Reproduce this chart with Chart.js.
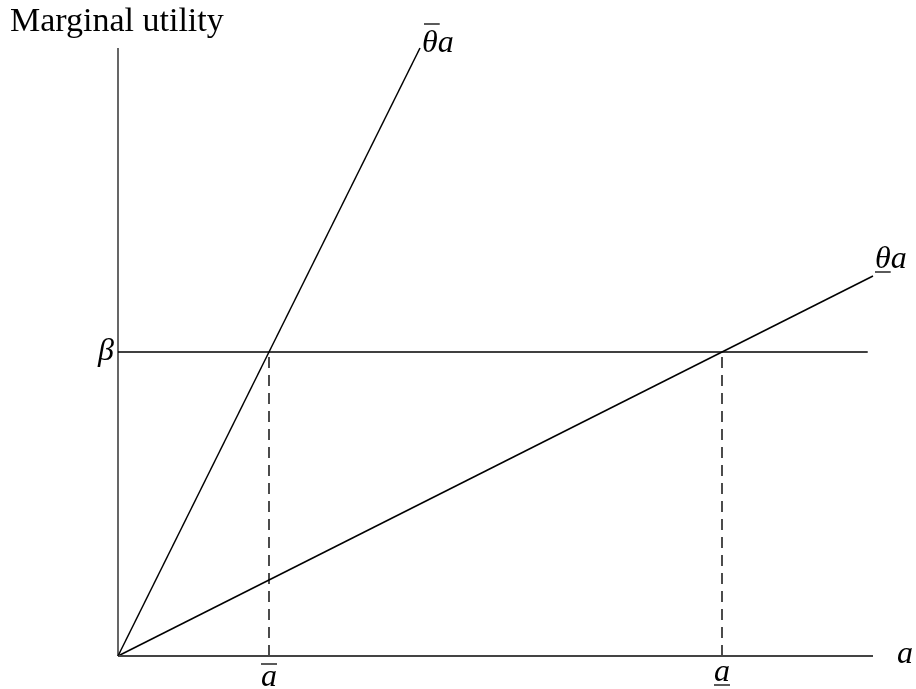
<!DOCTYPE html>
<html>
<head>
<meta charset="utf-8">
<script src="https://cdn.jsdelivr.net/npm/chart.js@4.4.1/dist/chart.umd.min.js"></script>
<style>
  body { margin: 0; background: #fff; }
  #wrap { width: 916px; height: 689px; }
</style>
</head>
<body>
<div id="wrap"><canvas id="grafico" width="916" height="689"></canvas></div>
<script>
// dados do grafico (unidades abstratas: a de 0 a 10, utilidade de 0 a 10)
const highThetaX = [0, 4];
const highThetaY = [0, 10];
const lowThetaX = [0, 10];
const lowThetaY = [0, 6.25];
const betaX = [0, 9.93];
const betaY = [5, 5];
const aBarDropX = [2, 2];
const aBarDropY = [0, 5];
const aLowDropX = [8, 8];
const aLowDropY = [0, 5];
const axisX = [0, 10];
const axisYtop = 10;

// marcas do eixo a
const aTicks = [2, 8];
const aTickMarks = ['over', 'under'];
const betaLevel = 5;

function pts(xs, ys) {
    return xs.map((x, i) => ({ x: x, y: ys[i] }));
}

const mathFont = 'italic 32px "Liberation Serif"';

// desenha textos e a barra / sublinhado
const rotulos = {
    id: 'rotulos',
    afterDraw(chart) {
        const ctx = chart.ctx;
        const sx = chart.scales.x, sy = chart.scales.y;
        ctx.save();
        ctx.fillStyle = '#000';
        ctx.strokeStyle = '#000';
        ctx.lineWidth = 1.3;

        ctx.font = '34px "Liberation Serif"';
        ctx.textAlign = 'left';
        ctx.textBaseline = 'alphabetic';
        ctx.fillText('Marginal utility', 10, 31);

        ctx.font = mathFont;
        // theta barra * a
        var px = sx.getPixelForValue(highThetaX[1]) + 2;
        var py = sy.getPixelForValue(highThetaY[1]) + 4;
        var wTheta = ctx.measureText('θ').width;
        ctx.fillText('θa', px, py);
        ctx.beginPath();
        ctx.moveTo(px + 2, py - 28);
        ctx.lineTo(px + wTheta + 2, py - 28);
        ctx.stroke();

        // theta sublinhado * a
        px = sx.getPixelForValue(lowThetaX[1]) + 2;
        py = sy.getPixelForValue(lowThetaY[1]) - 8;
        ctx.fillText('θa', px, py);
        ctx.beginPath();
        ctx.moveTo(px, py + 4);
        ctx.lineTo(px + wTheta, py + 4);
        ctx.stroke();

        // beta
        ctx.textAlign = 'right';
        ctx.fillText('β', sx.getPixelForValue(0) - 4, sy.getPixelForValue(betaLevel) + 8);

        // a no fim do eixo
        ctx.textAlign = 'left';
        ctx.fillText('a', sx.getPixelForValue(axisX[1]) + 24, sy.getPixelForValue(0) + 7);

        // marcas a barra e a sublinhado
        ctx.textAlign = 'center';
        var wa = ctx.measureText('a').width;
        aTicks.forEach(function (v, i) {
            var tx = sx.getPixelForValue(v);
            var base = sy.getPixelForValue(0);
            ctx.beginPath();
            if (aTickMarks[i] == 'over') {
                ctx.fillText('a', tx, base + 30);
                ctx.moveTo(tx - wa / 2, base + 8);
                ctx.lineTo(tx + wa / 2, base + 8);
            } else {
                ctx.fillText('a', tx, base + 25);
                ctx.moveTo(tx - wa / 2, base + 29);
                ctx.lineTo(tx + wa / 2, base + 29);
            }
            ctx.stroke();
        });
        ctx.restore();
    }
};

function linha(data, extra) {
    return Object.assign({
        data: data,
        showLine: true,
        borderColor: '#000',
        borderWidth: 1.5,
        pointRadius: 0,
        fill: false,
        clip: false
    }, extra || {});
}

var config = {
    type: 'scatter',
    data: {
        datasets: [
            linha(pts([0, 0], [0, axisYtop]), { borderWidth: 1.2 }),
            linha(pts(axisX, [0, 0]), { borderColor: '#444', borderWidth: 2 }),
            linha(pts(betaX, betaY)),
            linha(pts(aBarDropX, aBarDropY), { borderDash: [11, 7], borderWidth: 1.4 }),
            linha(pts(aLowDropX, aLowDropY), { borderDash: [11, 7], borderWidth: 1.4 }),
            linha(pts(highThetaX, highThetaY)),
            linha(pts(lowThetaX, lowThetaY))
        ]
    },
    options: {
        responsive: false,
        animation: false,
        layout: { padding: { left: 118, right: 43, top: 48, bottom: 33 } },
        plugins: { legend: { display: false }, tooltip: { enabled: false } },
        scales: {
            x: { type: 'linear', min: 0, max: 10, display: false },
            y: { type: 'linear', min: 0, max: 10, display: false }
        }
    },
    plugins: [rotulos]
};

var ctx = document.getElementById('grafico').getContext('2d');
var grafico = new Chart(ctx, config);
</script>
</body>
</html>
